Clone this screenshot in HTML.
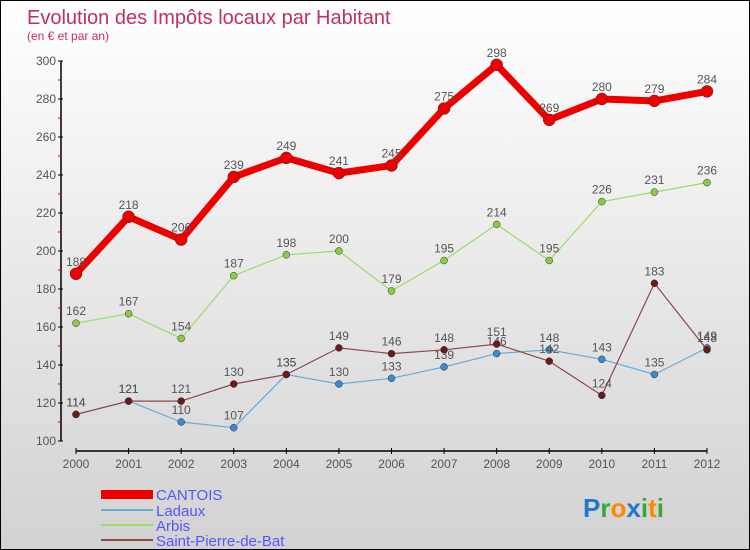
<!DOCTYPE html>
<html><head><meta charset="utf-8"><style>
html,body{margin:0;padding:0}
body{width:750px;height:550px;overflow:hidden;font-family:"Liberation Sans",sans-serif}
#wrap{position:relative;width:748px;height:548px;border:1px solid #000;background:linear-gradient(#ffffff,#d2d2d2)}
</style></head><body>
<div id="wrap">
<svg id="chart" width="748" height="548" style="position:absolute;left:0;top:0">
<text x="26" y="23" font-size="20" fill="#c03060">Evolution des Impôts locaux par Habitant</text>
<text x="26" y="39" font-size="12" fill="#c03060">(en € et par an)</text>
<g id="axes"></g><g id="series"></g>
<g>
<rect x="100" y="489" width="52" height="9" fill="#e00"/>
<text x="155" y="499" font-size="15" fill="#5555ff">CANTOIS</text>
<line x1="100" y1="509" x2="152" y2="509" stroke="#6aaad8" stroke-width="2"/>
<text x="155" y="515" font-size="15" fill="#5555ff">Ladaux</text>
<line x1="100" y1="524" x2="152" y2="524" stroke="#99dd66" stroke-width="2"/>
<text x="155" y="530" font-size="15" fill="#5555ff">Arbis</text>
<line x1="100" y1="539" x2="152" y2="539" stroke="#8b4a4a" stroke-width="2"/>
<text x="155" y="545" font-size="15" fill="#5555ff">Saint-Pierre-de-Bat</text>
</g>
<text x="582" y="516" font-size="26" font-weight="bold"><tspan fill="#2277cc">P</tspan><tspan fill="#33aa33">r</tspan><tspan fill="#ff8800">o</tspan><tspan fill="#2277cc">x</tspan><tspan fill="#33aa33">i</tspan><tspan fill="#ff8800">t</tspan><tspan fill="#33aa33">i</tspan></text>
</svg>
</div>
<script>
const years=[2000,2001,2002,2003,2004,2005,2006,2007,2008,2009,2010,2011,2012];
const yTicks=[100,120,140,160,180,200,220,240,260,280,300];
const cantois=[188,218,206,239,249,241,245,275,298,269,280,279,284];
const ladaux=[114,121,110,107,135,130,133,139,146,148,143,135,149];
const arbis=[162,167,154,187,198,200,179,195,214,195,226,231,236];
const stpierre=[114,121,121,130,135,149,146,148,151,142,124,183,148];
const NS="http://www.w3.org/2000/svg";
function xs(i){return 75+i*(706-75)/(years.length-1);}
function ys(v){return 440-(v-100)*1.9;}
function mk(tag,attrs,parent){const e=document.createElementNS(NS,tag);for(const k in attrs)e.setAttribute(k,attrs[k]);parent.appendChild(e);return e;}
const ax=document.getElementById('axes');
let l=mk('line',{x1:60,y1:ys(300),x2:60,y2:ys(100),stroke:'#000','stroke-width':1.5},ax);


l=mk('line',{x1:75,y1:450,x2:706,y2:450,stroke:'#000','stroke-width':1.5},ax);


yTicks.forEach(v=>{
 const t=mk('line',{x1:57,y1:ys(v),x2:62,y2:ys(v),stroke:'#000'},ax);
 
 
 const m=mk('line',{x1:57,y1:ys(v+10),x2:60,y2:ys(v+10),stroke:'#d00'},ax);
 if(v===300)m.remove();
 const tx=mk('text',{x:55,y:ys(v)+4,'font-size':12,fill:'#555','text-anchor':'end'},ax);
 tx.textContent=v;
 
 
});
years.forEach((y,i)=>{
 const t=mk('line',{x1:xs(i),y1:447,x2:xs(i),y2:453,stroke:'#000'},ax);
 
 
 const tx=mk('text',{x:xs(i),y:467,'font-size':12,fill:'#555','text-anchor':'middle'},ax);
 tx.textContent=y;
 
 
});
const sg=document.getElementById('series');
function draw(data,name,color,w,r,dot){
 const g=mk('g',{},sg);
 
 
 const p=mk('polyline',{points:data.map((v,i)=>xs(i)+','+ys(v)).join(' '),fill:'none',stroke:color,'stroke-width':w,'stroke-linejoin':'round'},g);
 
 
 data.forEach((v,i)=>{
  const c=mk('circle',{cx:xs(i),cy:ys(v),r:r,fill:dot,stroke:'#333','stroke-width':0.5},g);
  
  
  const t=mk('text',{x:xs(i),y:ys(v)-8,'font-size':12,fill:'#555','text-anchor':'middle'},g);
  t.textContent=v;
  
  
 });
}
draw(arbis,'arbis','#99dd66',1.2,3.5,'#88cc44');
draw(ladaux,'ladaux','#6aaad8',1.2,3.5,'#3a8ad0');
draw(stpierre,'saint-pierre','#8b4a4a',1.2,3.5,'#6a1a1a');
draw(cantois,'cantois','#ee0000',7,6,'#ee0000');
</script>
</body></html>
